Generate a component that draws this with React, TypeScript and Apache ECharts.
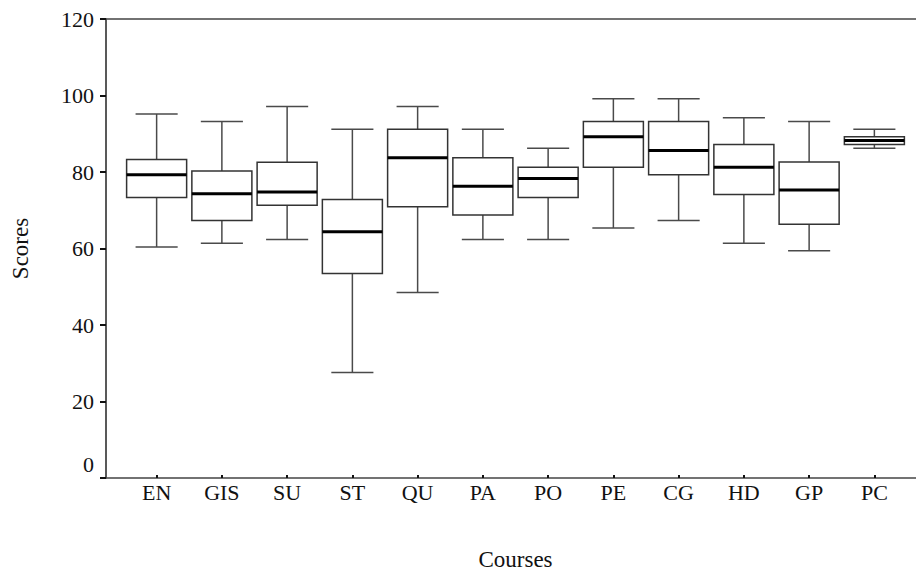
import React, { useEffect, useRef } from "react";
import * as echarts from "echarts";

const categories = ["EN", "GIS", "SU", "ST", "QU", "PA", "PO", "PE", "CG", "HD", "GP", "PC"];
const mins = [60, 61, 62, 27, 48, 62, 62, 65, 67, 61, 59, 86];
const q1s = [73, 67, 71, 53, 70.6, 68.4, 73, 81, 79, 73.8, 66, 87];
const medians = [79, 74, 74.5, 64, 83.5, 76, 78, 89, 85.4, 81, 75, 88];
const q3s = [83, 80, 82.3, 72.5, 91, 83.5, 81, 93, 93, 87, 82.4, 89];
const maxs = [95, 93, 97, 91, 97, 91, 86, 99, 99, 94, 93, 91];
const yTicks = [0, 20, 40, 60, 80, 100, 120];

const FONT = '"Liberation Serif", "Times New Roman", serif';

export default function App() {
  const ref = useRef<HTMLDivElement>(null);
  useEffect(() => {
    if (!ref.current) return;
    const chart = echarts.init(ref.current, null, { renderer: "svg" });
    const data = categories.map((c, i) => [i, mins[i], q1s[i], medians[i], q3s[i], maxs[i]]);
    const yMin = yTicks[0];
    const yMax = yTicks[yTicks.length - 1];
    const step = yTicks[1] - yTicks[0];
    const option: any = {
      animation: false,
      backgroundColor: "#fff",
      grid: [
        { left: 106, right: 0, top: 19, bottom: 98 },
        { left: 124, right: 9, top: 19, bottom: 98 },
      ],
      xAxis: [
        {
          type: "value",
          gridIndex: 0,
          min: 0,
          max: 1,
          position: "bottom",
          axisLine: { show: true, lineStyle: { color: "#444", width: 1.5 } },
          axisTick: { show: false },
          axisLabel: { show: false },
          splitLine: { show: false },
        },
        {
          type: "value",
          gridIndex: 0,
          min: 0,
          max: 1,
          position: "top",
          axisLine: { show: true, onZero: false, lineStyle: { color: "#444", width: 1.5 } },
          axisTick: { show: false },
          axisLabel: { show: false },
          splitLine: { show: false },
        },
        {
          type: "category",
          gridIndex: 1,
          data: categories,
          position: "bottom",
          axisLine: { show: true, lineStyle: { color: "rgba(0,0,0,0)" } },
          axisTick: { show: true, alignWithLabel: true, length: 3, lineStyle: { color: "#111", width: 2 } },
          axisLabel: { fontFamily: FONT, fontSize: 22, color: "#111", margin: 6 },
          name: "Courses",
          nameLocation: "middle",
          nameGap: 73,
          nameTextStyle: { fontFamily: FONT, fontSize: 23, color: "#111" },
          splitLine: { show: false },
        },
      ],
      yAxis: [
        {
          type: "value",
          gridIndex: 0,
          min: yMin,
          max: yMax,
          interval: step,
          axisLine: { show: true, lineStyle: { color: "#222", width: 1.5 } },
          axisTick: { show: true, inside: false, length: 6, lineStyle: { color: "#111", width: 2 } },
          axisLabel: {
            fontFamily: FONT,
            fontSize: 22,
            color: "#111",
            margin: 12,
            formatter: (v: number) => (v === 0 ? "{z|0}" : String(v)),
            rich: { z: { fontFamily: FONT, fontSize: 22, color: "#111", padding: [0, 0, 27, 0] } },
          },
          splitLine: { show: false },
          name: "Scores",
          nameLocation: "middle",
          nameGap: 74,
          nameTextStyle: { fontFamily: FONT, fontSize: 23, color: "#111" },
        },
        {
          type: "value",
          gridIndex: 1,
          min: yMin,
          max: yMax,
          show: false,
        },
      ],
      series: [
        {
          type: "custom",
          xAxisIndex: 2,
          yAxisIndex: 1,
          data,
          renderItem: (params: any, api: any) => {
            const idx = api.value(0);
            const lo = api.coord([idx, api.value(1)]);
            const q1 = api.coord([idx, api.value(2)]);
            const med = api.coord([idx, api.value(3)]);
            const q3 = api.coord([idx, api.value(4)]);
            const hi = api.coord([idx, api.value(5)]);
            const band = api.size([1, 0])[0];
            const bw = band * 0.92;
            const cw = band * 0.645;
            const x = lo[0];
            const lineStyle = { stroke: "#4a4a4a", lineWidth: 1.5, fill: "none" };
            return {
              type: "group",
              children: [
                { type: "line", shape: { x1: x, y1: q3[1], x2: x, y2: hi[1] }, style: lineStyle },
                { type: "line", shape: { x1: x, y1: q1[1], x2: x, y2: lo[1] }, style: lineStyle },
                { type: "line", shape: { x1: x - cw / 2, y1: hi[1], x2: x + cw / 2, y2: hi[1] }, style: lineStyle },
                { type: "line", shape: { x1: x - cw / 2, y1: lo[1], x2: x + cw / 2, y2: lo[1] }, style: lineStyle },
                {
                  type: "rect",
                  shape: { x: x - bw / 2, y: q3[1], width: bw, height: q1[1] - q3[1] },
                  style: { fill: "#fff", stroke: "#333", lineWidth: 1.5 },
                },
                {
                  type: "line",
                  shape: { x1: x - bw / 2, y1: med[1], x2: x + bw / 2, y2: med[1] },
                  style: { stroke: "#000", lineWidth: 3 },
                },
              ],
            };
          },
        },
      ],
    };
    chart.setOption(option);
    return () => chart.dispose();
  }, []);
  return <div ref={ref} style={{ width: 916, height: 576, position: "absolute", left: 0, top: 0 }} />;
}
